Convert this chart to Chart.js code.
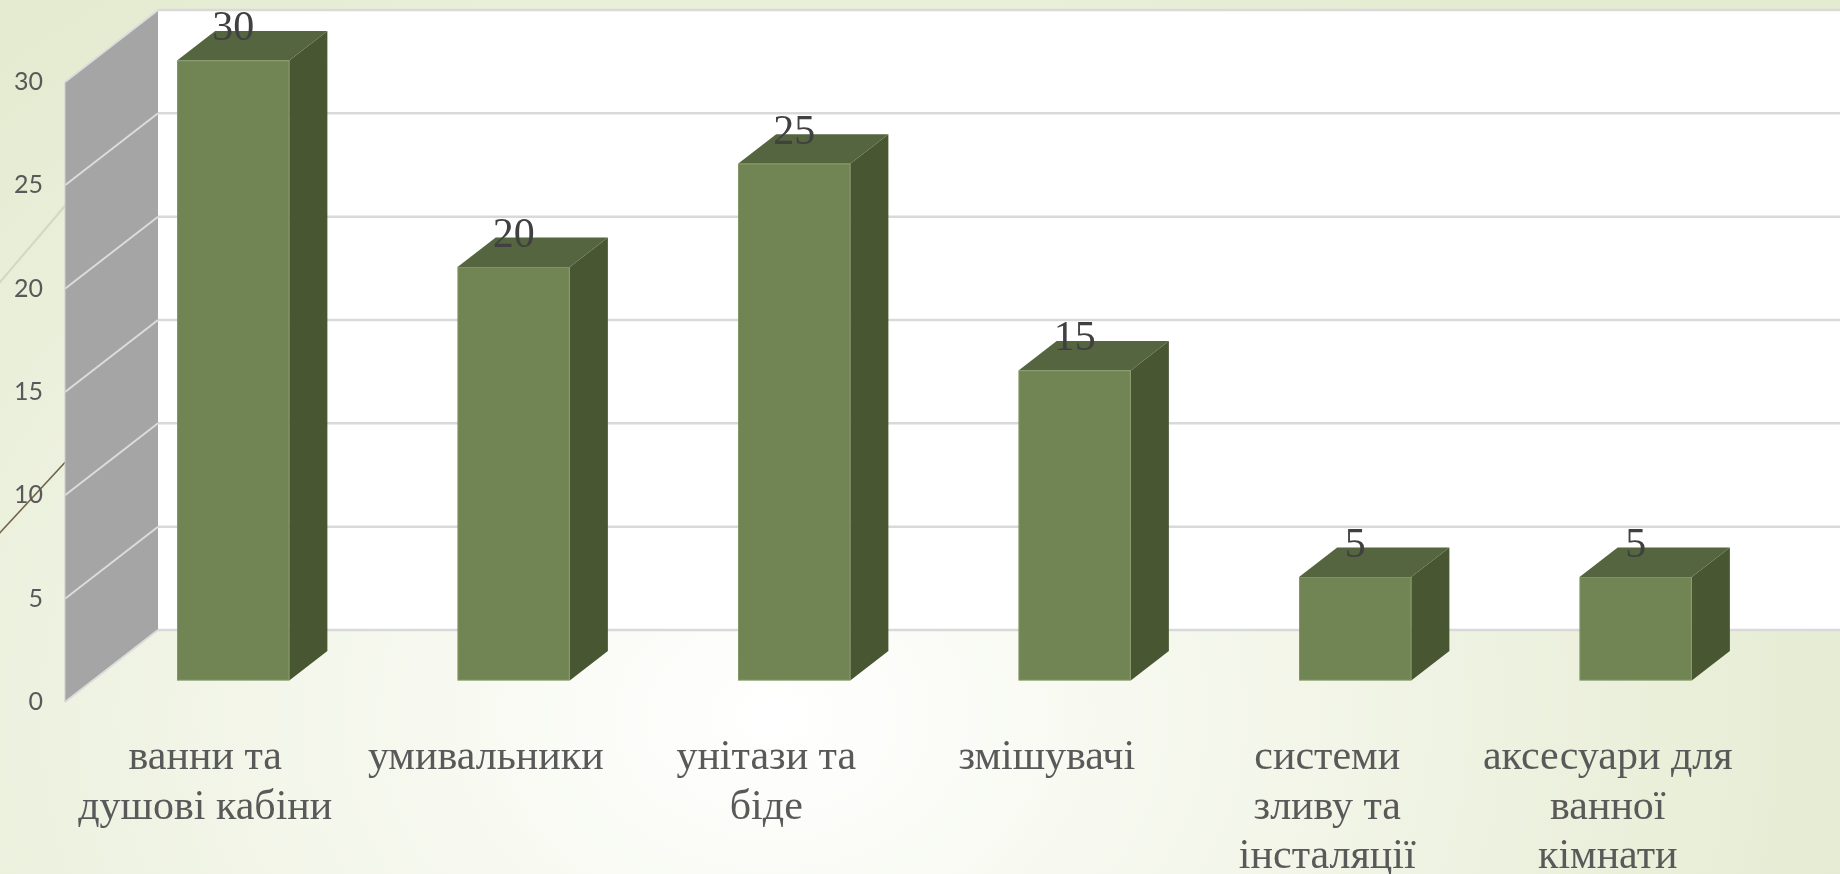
<!DOCTYPE html>
<html>
<head>
<meta charset="utf-8">
<script src="https://cdn.jsdelivr.net/npm/chart.js@4.4.1/dist/chart.umd.min.js"></script>
<style>
  html, body { margin: 0; padding: 0; }
  body {
    width: 1840px; height: 874px; overflow: hidden;
    background: radial-gradient(ellipse 1150px 900px at 42% 82%, #ffffff 0%, #f7f9f0 30%, #eef2e1 62%, #e4ebd0 100%);
  }
  canvas { display: block; }
</style>
</head>
<body>
<canvas id="chart" width="1840" height="874"></canvas>
<script>
var categories = [
  ['ванни та', 'душові кабіни'],
  ['умивальники'],
  ['унітази та', 'біде'],
  ['змішувачі'],
  ['системи', 'зливу та', 'інсталяції'],
  ['аксесуари для', 'ванної', 'кімнати']
];
var values = [30, 20, 25, 15, 5, 5];
var axisMin = 0, axisMax = 30, axisStep = 5;

var serif = '"Liberation Serif", "Times New Roman", "DejaVu Serif", serif';

// oblique depth of the plot box, bars sit between 30% and 71% of it
var depthX = 93, depthY = -72;
var barFront = 0.3, barBack = 0.71;

function poly(ctx, pts, fill) {
  ctx.beginPath();
  ctx.moveTo(pts[0][0], pts[0][1]);
  for (var i = 1; i < pts.length; i++) ctx.lineTo(pts[i][0], pts[i][1]);
  ctx.closePath();
  ctx.fillStyle = fill;
  ctx.fill();
}

function line(ctx, x1, y1, x2, y2, color, w) {
  ctx.beginPath();
  ctx.moveTo(x1, y1);
  ctx.lineTo(x2, y2);
  ctx.strokeStyle = color;
  ctx.lineWidth = w;
  ctx.stroke();
}

function label(ctx, text, x, y, font, color) {
  ctx.save();
  ctx.font = font;
  ctx.fillStyle = color;
  ctx.textAlign = 'center';
  ctx.textBaseline = 'alphabetic';
  ctx.fillText(text, x, y);
  ctx.restore();
}

var box3d = {
  id: 'box3d',
  beforeDraw: function(chart) {
    var ctx = chart.ctx;
    // thin theme lines at the left edge
    ctx.save();
    line(ctx, -5, 288, 70, 200, '#d3d7c4', 2);
    line(ctx, -5, 538, 70, 457, '#6f6249', 1.6);
    ctx.restore();
  },
  beforeDatasetsDraw: function(chart) {
    var ctx = chart.ctx;
    var a = chart.chartArea;
    var y = chart.scales.y;
    var L = a.left, R = a.right, T = a.top, B = a.bottom;
    ctx.save();

    // back wall
    poly(ctx, [[L + depthX, T + depthY], [R + depthX, T + depthY], [R + depthX, B + depthY], [L + depthX, B + depthY]], '#ffffff');
    // side wall
    poly(ctx, [[L, T], [L + depthX, T + depthY], [L + depthX, B + depthY], [L, B]], '#a5a5a5');

    // gridlines across side and back walls
    y.ticks.forEach(function(t) {
      var py = y.getPixelForValue(t.value);
      line(ctx, L, py, L + depthX, py + depthY, '#dcdcdc', 2);
      line(ctx, L + depthX, py + depthY, R + depthX + 5, py + depthY, '#d9d9d9', 2.5);
    });
    line(ctx, L, T, L, B, '#cfcfcf', 1);

    // 3d columns built from the bar elements
    var meta = chart.getDatasetMeta(0);
    var fx = depthX * barFront, fy = depthY * barFront;
    var bx = depthX * (barBack - barFront), by = depthY * (barBack - barFront);
    meta.data.forEach(function(el) {
      var p = el.getProps(['x', 'y', 'base', 'width'], true);
      var x0 = p.x - p.width / 2 + fx, x1 = x0 + p.width;
      var yt = p.y + fy, yb = p.base + fy;
      poly(ctx, [[x1, yt], [x1 + bx, yt + by], [x1 + bx, yb + by], [x1, yb]], '#485632');
      poly(ctx, [[x0, yt], [x1, yt], [x1 + bx, yt + by], [x0 + bx, yt + by]], '#55653f');
      poly(ctx, [[x0, yt], [x1, yt], [x1, yb], [x0, yb]], '#708553');
      ctx.strokeStyle = 'rgba(140,160,110,0.6)';
      ctx.lineWidth = 1;
      ctx.strokeRect(x0 + 0.5, yt + 0.5, p.width - 1, yb - yt - 1);
    });
    ctx.restore();
    return false;
  },
  afterDraw: function(chart) {
    var ctx = chart.ctx;
    var meta = chart.getDatasetMeta(0);
    var fx = depthX * barFront, fy = depthY * barFront;

    // value labels over each column
    meta.data.forEach(function(el, i) {
      label(ctx, String(values[i]), el.x + fx, el.y + fy - 20, '42px ' + serif, '#404040');
    });

    // category labels under the box
    var x = chart.scales.x;
    categories.forEach(function(lines, i) {
      var px = x.getPixelForTick(i);
      lines.forEach(function(txt, k) {
        label(ctx, txt, px, 769 + k * 49.5, '42px ' + serif, '#595959');
      });
    });
  }
};

var ctx = document.getElementById('chart').getContext('2d');
var myChart = new Chart(ctx, {
  type: 'bar',
  data: {
    labels: categories,
    datasets: [{
      data: values,
      backgroundColor: '#708553',
      barPercentage: 0.4,
      categoryPercentage: 1
    }]
  },
  options: {
    responsive: false,
    animation: false,
    devicePixelRatio: 1,
    layout: { padding: { top: 82, right: 92, left: 0, bottom: 0 } },
    plugins: { legend: { display: false }, tooltip: { enabled: false } },
    scales: {
      x: {
        grid: { display: false, drawTicks: false },
        border: { display: false },
        ticks: { display: false },
        afterFit: function(s) { s.height = 172; }
      },
      y: {
        min: axisMin,
        max: axisMax,
        grid: { display: false, drawTicks: false },
        border: { display: false },
        ticks: {
          stepSize: axisStep,
          padding: 22,
          color: '#595959',
          font: { family: 'Lato', size: 25 }
        },
        afterFit: function(s) { s.width = 65; }
      }
    }
  },
  plugins: [box3d]
});
</script>
</body>
</html>
